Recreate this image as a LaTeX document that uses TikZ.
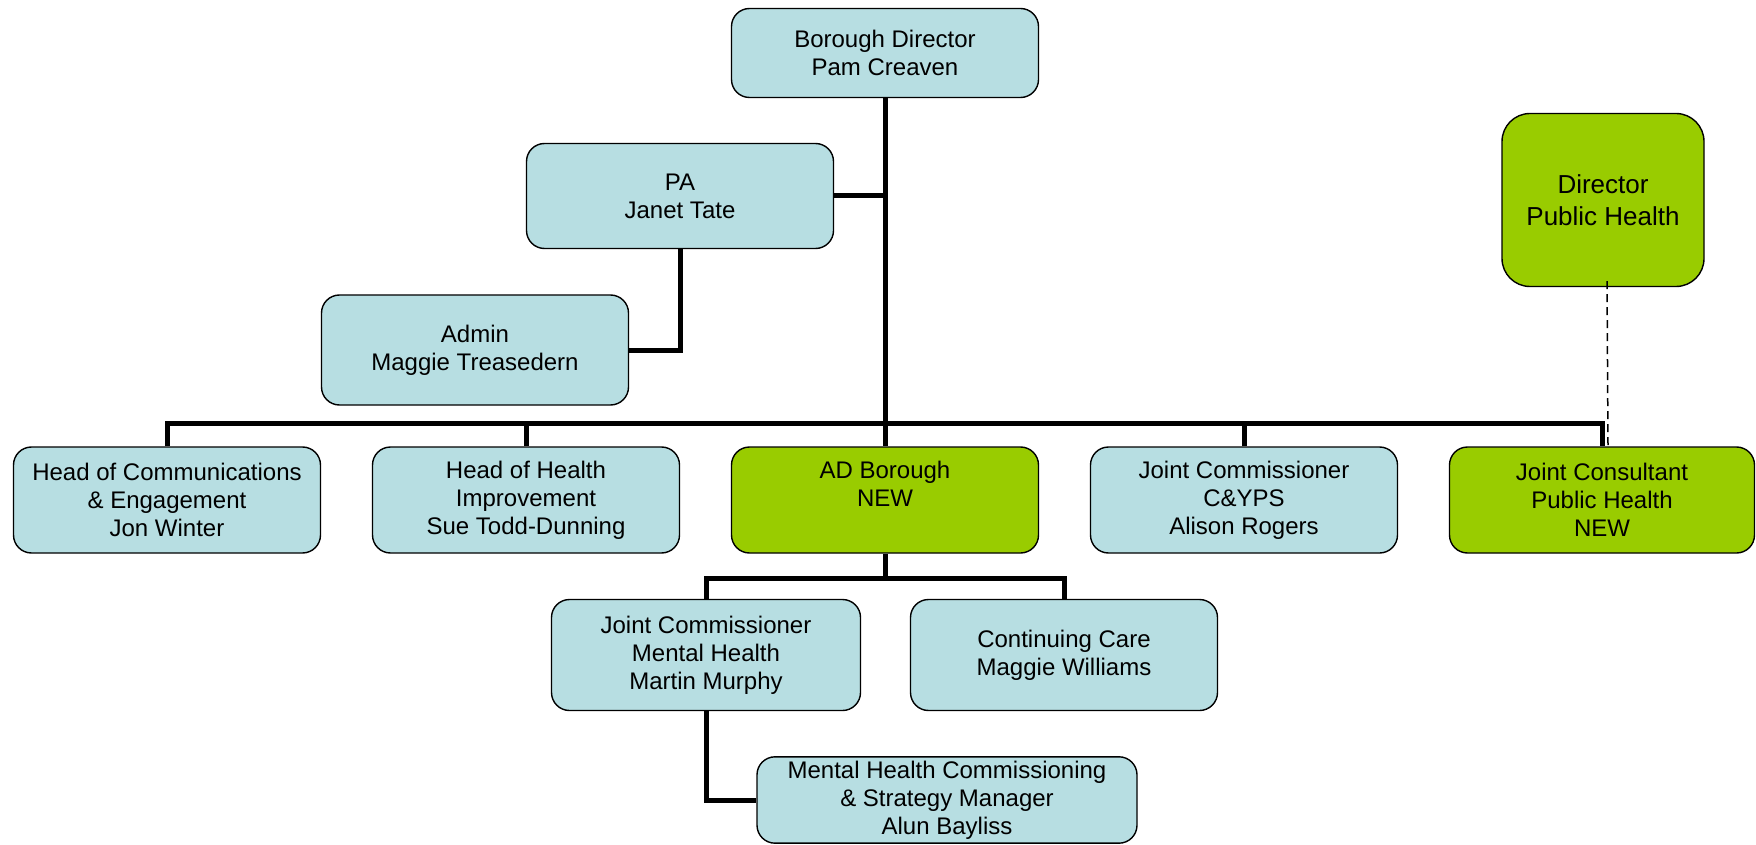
\documentclass[tikz,border=0pt]{standalone}
\usepackage{fontspec}
\setmainfont{Liberation Sans}
\definecolor{paleblue}{RGB}{183,222,226}
\definecolor{newgreen}{RGB}{153,204,0}
\tikzset{
  post/.style={draw, line width=0.7pt, rounded corners=9pt, fill=paleblue, align=center,
    font=\fontsize{12}{14}\selectfont, minimum width=153.5pt, minimum height=53pt, inner sep=2pt},
  newpost/.style={post, fill=newgreen},
  link/.style={line width=2.5pt},
}

\begin{document}
\begin{tikzpicture}[x=0.5pt, y=-0.5pt]
    \useasboundingbox (0,0) rectangle (1756,845);
    % top of the tree
    \node[post, minimum height=44.5pt] (bd) at (885,53) {Borough Director\\Pam Creaven};
    \node[post, minimum height=52.5pt] (pa) at (680,196) {PA\\Janet Tate};
    \node[post, minimum height=55pt] (admin) at (475,350) {Admin\\Maggie Treasedern};
    \node[newpost, minimum width=101pt, minimum height=86.5pt, rounded corners=14pt,
        font=\fontsize{13}{16}\selectfont] (dph) at (1603,200) {Director\\Public Health};
    % second row
    \node[post] (comms) at (167,500) {Head of Communications\\\& Engagement\\Jon Winter};
    \node[post] (health) at (526,500) {Head of Health\\Improvement\\Sue Todd-Dunning};
    \node[newpost] (adb) at (885,500) {AD Borough\\NEW\\\phantom{g}};
    \node[post] (cyps) at (1244,500) {Joint Commissioner\\C\&YPS\\Alison Rogers};
    \node[newpost, minimum width=152.5pt] (jcph) at (1602,500) {Joint Consultant\\Public Health\\NEW};
    % under AD Borough
    \node[post, minimum width=154.5pt, minimum height=55.5pt] (jcmh) at (706,655) {Joint Commissioner\\Mental Health\\Martin Murphy};
    \node[post, minimum height=55.5pt] (care) at (1064,655) {Continuing Care\\Maggie Williams};
    \node[post, minimum width=190pt, minimum height=43pt] (mhcsm) at (947,800) {Mental Health Commissioning\\\& Strategy Manager\\Alun Bayliss};

    \coordinate (bus) at (0,423);
    \coordinate (sub) at (0,578);
    \draw[link] (bd.south) -- (adb.north);
    \draw[link] (pa.east) -- (pa.east -| bd.south);
    \draw[link] (pa.south) |- (admin.east);
    \draw[link] (comms.north) -- (comms.north |- bus) -- (jcph.north |- bus) -- (jcph.north);
    \draw[link] (health.north) -- (health.north |- bus);
    \draw[link] (cyps.north) -- (cyps.north |- bus);
    \draw[link] (adb.south) -- (adb.south |- sub);
    \draw[link] (jcmh.north) -- (jcmh.north |- sub) -- (care.north |- sub) -- (care.north);
    \draw[link] (jcmh.south) |- (mhcsm.west);
    \draw[line width=0.75pt, dash pattern=on 4pt off 2.5pt] ([xshift=2pt,yshift=3pt]dph.south) -- ([xshift=3pt]jcph.north);
\end{tikzpicture}
\end{document}
